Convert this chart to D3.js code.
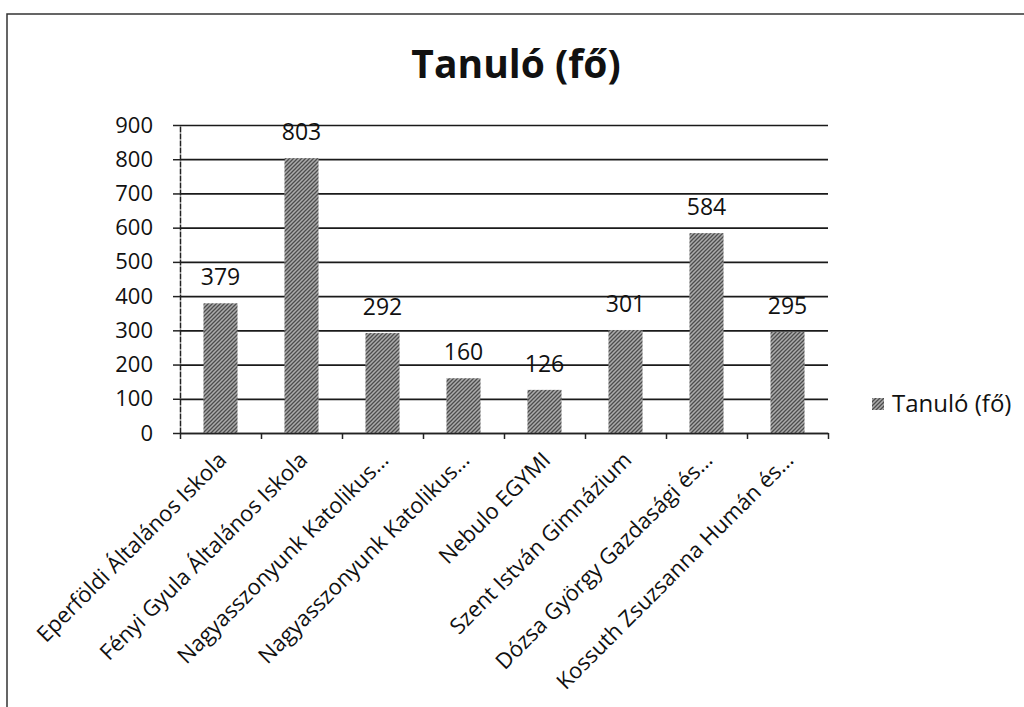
<!DOCTYPE html>
<html>
<head>
<meta charset="utf-8">
<script src="https://cdn.jsdelivr.net/npm/d3@7"></script>
<style>
  body { margin: 0; background: #fff; }
  text { font-family: "Open Sans", sans-serif; fill: #111; }
</style>
</head>
<body>
<div id="container"></div>
<script>
// data
let categories = [
  "Eperföldi Általános Iskola",
  "Fényi Gyula Általános Iskola",
  "Nagyasszonyunk Katolikus…",
  "Nagyasszonyunk Katolikus…",
  "Nebulo EGYMI",
  "Szent István Gimnázium",
  "Dózsa György Gazdasági és…",
  "Kossuth Zsuzsanna Humán és…"
];
let values = [379, 803, 292, 160, 126, 301, 584, 295];
let yTicks = [0, 100, 200, 300, 400, 500, 600, 700, 800, 900];
let seriesName = "Tanuló (fő)";
let titleText = "Tanuló (fő)";

let W = 1024, H = 707;
let plotLeft = 180, plotRight = 828, plotTop = 125, plotBottom = 433;

let svg = d3.select('#container')
            .append('svg')
            .attr("width", W)
            .attr("height", H);

// hatched grey fill like the scanned bars
let defs = svg.append('defs');
let pat = defs.append('pattern')
    .attr('id', 'hatch')
    .attr('patternUnits', 'userSpaceOnUse')
    .attr('width', 4)
    .attr('height', 4);
pat.append('rect').attr('width', 4).attr('height', 4).attr('fill', '#ababab');
pat.append('path')
    .attr('d', 'M0,4 L4,0 M-1,1 L1,-1 M3,5 L5,3')
    .attr('stroke', '#4d4d4d')
    .attr('stroke-width', 1.3);

// chart frame
svg.append('rect')
    .attr('x', 7).attr('y', 14)
    .attr('width', 1040).attr('height', 720)
    .attr('fill', 'none')
    .attr('stroke', '#333')
    .attr('stroke-width', 1.5);

// title
svg.append('text')
    .attr('x', 516).attr('y', 78)
    .attr('text-anchor', 'middle')
    .style('font-size', '39px')
    .style('font-weight', 'bold')
    .text(titleText);

let x = d3.scaleBand()
    .domain(d3.range(categories.length))
    .range([plotLeft, plotRight])
    .paddingInner(0.58)
    .paddingOuter(0.29);

let xEdge = d3.scaleLinear()
    .domain([0, categories.length])
    .range([plotLeft, plotRight]);

let y = d3.scaleLinear()
    .domain([0, 900])
    .range([plotBottom, plotTop]);

// gridlines
svg.append('g')
    .attr('transform', `translate(${plotLeft},0)`)
    .call(d3.axisLeft(y).tickValues(yTicks).tickSize(-(plotRight - plotLeft)).tickFormat(''))
    .call(g => g.select('.domain').remove())
    .selectAll('line')
    .attr('stroke', '#1a1a1a')
    .attr('stroke-width', 1.7);

// y axis
let yAxis = svg.append('g')
    .attr('transform', `translate(${plotLeft},0)`)
    .call(d3.axisLeft(y).tickValues(yTicks).tickSize(7).tickPadding(20).tickSizeOuter(0));
yAxis.select('.domain').attr('stroke', '#222').attr('stroke-width', 1.5).attr('stroke-dasharray', '6,1');
yAxis.selectAll('line').attr('stroke', '#222').attr('stroke-width', 1.5);
yAxis.selectAll('text')
    .style('font-size', '22px')
    .style('font-family', '"Open Sans", sans-serif')
    .attr('fill', '#111');

// bars
svg.selectAll('.bar')
    .data(values)
    .enter()
    .append('rect')
    .attr('class', 'bar')
    .attr('x', (d, i) => x(i))
    .attr('y', d => y(d))
    .attr('width', x.bandwidth())
    .attr('height', d => y(0) - y(d))
    .attr('fill', 'url(#hatch)');

// x axis with ticks at category edges
let xAxis = svg.append('g')
    .attr('transform', `translate(0,${plotBottom})`)
    .call(d3.axisBottom(xEdge).ticks(categories.length).tickSize(6).tickSizeOuter(0).tickFormat(''));
xAxis.select('.domain').attr('stroke', '#222').attr('stroke-width', 1.7);
xAxis.selectAll('line').attr('stroke', '#222').attr('stroke-width', 1.5);

// value labels
svg.selectAll('.val')
    .data(values)
    .enter()
    .append('text')
    .attr('class', 'val')
    .attr('x', (d, i) => x(i) + x.bandwidth() / 2)
    .attr('y', d => y(d) - 18)
    .attr('text-anchor', 'middle')
    .style('font-size', '23px')
    .text(d => d);

// rotated category labels
svg.selectAll('.cat')
    .data(categories)
    .enter()
    .append('text')
    .attr('class', 'cat')
    .attr('transform', (d, i) => `translate(${x(i) + x.bandwidth() / 2 + 2},${plotBottom + 23}) rotate(-45)`)
    .attr('text-anchor', 'end')
    .attr('dy', '0.35em')
    .style('font-size', '22px')
    .text(d => d);

// legend
let legend = svg.append('g').attr('transform', 'translate(872,398)');
legend.append('rect')
    .attr('width', 12).attr('height', 12)
    .attr('fill', 'url(#hatch)');
legend.append('text')
    .attr('x', 20).attr('y', 6)
    .attr('dy', '0.35em')
    .style('font-size', '24px')
    .text(seriesName);
</script>
</body>
</html>
